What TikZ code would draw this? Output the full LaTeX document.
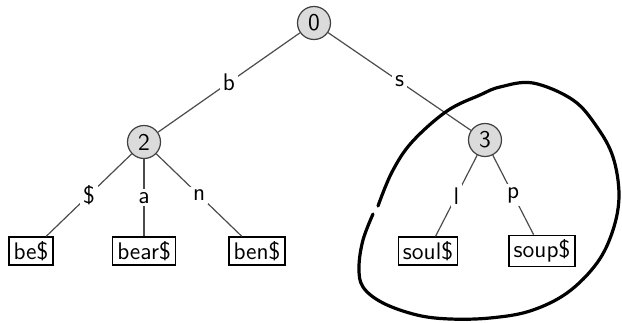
\documentclass[tikz,border=0pt]{standalone}
\usepackage{fontspec}
\begin{document}
\begin{tikzpicture}[x=0.5pt,y=-0.5pt,
  every node/.style={font=\sffamily\fontsize{12}{14}\selectfont},
  inner/.style={circle,draw=black!75,line width=0.6pt,fill=black!14,minimum size=16.5pt,inner sep=0pt},
  leaf/.style={rectangle,draw=black,line width=0.6pt,inner xsep=2.3pt,inner ysep=2.2pt},
  edge/.style={draw=black!70,line width=0.6pt},
  lbl/.style={fill=white,inner sep=1.5pt,pos=0.5},
  loop/.style={draw=black,line width=1.6pt,line cap=round}]
\useasboundingbox (0,0) rectangle (622,322);
% internal nodes of the trie
\node[inner] (n0) at (314,23) {0};
\node[inner] (n2) at (144,142) {2};
\node[inner] (n3) at (485,140) {3};
% leaves
\node[leaf] (be)   at (31,251)  {be\$};
\node[leaf] (bear) at (144,251) {bear\$};
\node[leaf] (ben)  at (257,251) {ben\$};
\node[leaf] (soul) at (428,251) {soul\$};
\node[leaf] (soup) at (542,251) {soup\$};
% labelled edges
\draw[edge] (n0) -- node[lbl] {b} (n2);
\draw[edge] (n0) -- node[lbl] {s} (n3);
\draw[edge] (n2) -- node[lbl] {\$} (be);
\draw[edge] (n2) -- node[lbl] {a} (bear);
\draw[edge] (n2) -- node[lbl] {n} (ben);
\draw[edge] (n3) -- node[lbl] {l} (soul);
\draw[edge] (n3) -- node[lbl] {p} (soup);
% hand-drawn loop around the s-subtree
\draw[loop] plot[smooth,tension=0.6] coordinates {
  (378,206) (392,172) (412,142) (447,111) (480,95) (500,87) (533,83)
  (573,100) (597,127) (613,157) (619,195) (613,230) (597,263) (567,293)
  (530,311) (490,318) (450,319) (417,315) (383,303) (363,287) (359,267)
  (363,240) (373,214)};
\end{tikzpicture}
\end{document}
